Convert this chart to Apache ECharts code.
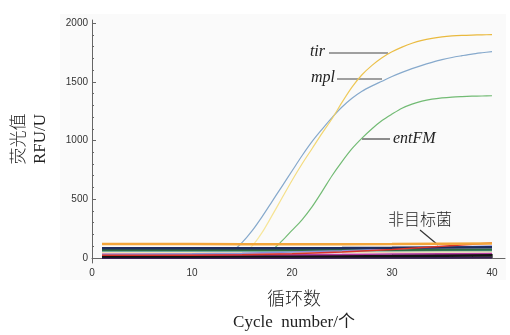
<!DOCTYPE html>
<html>
<head>
<meta charset="utf-8">
<script src="https://cdn.jsdelivr.net/npm/echarts@6/dist/echarts.min.js"></script>
<style>
	html, body { margin: 0; padding: 0; background: #fff; }
	#containerCurva { width: 510px; height: 335px; }
</style>
</head>
<body>
<div id="containerCurva"></div>
<script>
// ciclos 1..40
var ciclos = [];
for (var c = 1; c <= 40; c++) ciclos.push(c);

// curvas de amplificacion (RFU por ciclo)
var tir = [10, 10, 10, 10, 10, 10, 10, 10, 10, 10, 11, 11, 12, 14, 35, 100, 215, 360, 510, 660,
	800, 930, 1060, 1185, 1325, 1455, 1560, 1640, 1705, 1755, 1795, 1828, 1853, 1870, 1882, 1890, 1895, 1898, 1900, 1901];
var mpl = [20, 20, 20, 20, 20, 20, 20, 20, 20, 21, 22, 24, 30, 55, 130, 230, 350, 480, 610, 740,
	870, 990, 1095, 1195, 1285, 1360, 1420, 1465, 1505, 1545, 1580, 1612, 1640, 1665, 1688, 1707, 1722, 1736, 1747, 1757];
var entFM = [30, 30, 30, 30, 30, 30, 30, 30, 30, 30, 30, 30, 30, 31, 32, 34, 40, 70, 145, 235,
	325, 435, 565, 700, 820, 930, 1020, 1100, 1170, 1225, 1275, 1310, 1335, 1352, 1363, 1370, 1374, 1377, 1379, 1381];

// bacterias no objetivo (lineas base)
var ciclosBase = [1, 5, 10, 15, 20, 25, 30, 35, 40];
var baseNaranja = [118, 118, 118, 117, 117, 117, 118, 120, 122];
var baseRojo = [22, 22, 24, 28, 36, 50, 72, 100, 128];
var baseAzulOsc = [82, 82, 82, 82, 83, 84, 86, 90, 92];
var baseLavanda = [30, 32, 35, 40, 50, 62, 76, 92, 102];
var baseVerde = [68, 68, 68, 68, 68, 68, 68, 70, 72];
var baseTeal = [60, 60, 60, 60, 60, 61, 62, 63, 64];
var baseCrema = [50, 50, 50, 50, 50, 51, 52, 53, 54];
var baseRosa = [36, 36, 37, 38, 40, 44, 48, 52, 58];
var baseMagenta = [26, 26, 26, 27, 28, 30, 33, 36, 40];
var baseNegro = [15, 15, 15, 16, 16, 17, 18, 20, 22];
var baseMorado = [0, 0, 0, 0, 0, 1, 2, 2, 3];

var xLabels = [0, 10, 20, 30, 40];
var xMinor = [2, 4, 6, 8, 12, 14, 16, 18, 22, 24, 26, 28, 32, 34, 36, 38];
var yLabels = [0, 500, 1000, 1500, 2000];
var yMinor = [100, 200, 300, 400, 600, 700, 800, 900, 1100, 1200, 1300, 1400, 1600, 1700, 1800, 1900];

function pares(xs, ys) {
	return xs.map(function (x, i) { return [x, ys[i]]; });
}

function serieCurva(nombre, data, color) {
	return {
		name: nombre, type: 'line', data: pares(ciclos, data),
		showSymbol: false, smooth: 0.3, silent: true, z: 2,
		lineStyle: { color: color, width: 1.2 }
	};
}

function serieBase(data, color, ancho) {
	return {
		type: 'line', data: pares(ciclosBase, data),
		showSymbol: false, silent: true, z: 3,
		lineStyle: { color: color, width: ancho }
	};
}

function initCurva(divName) {
	var dom = document.getElementById(divName);
	var myChart = echarts.init(dom);
	var ejeTxt = { color: '#333', fontSize: 10, fontFamily: 'Liberation Sans, Arial, sans-serif', formatter: function (v) { return String(v); } };
	var serif = 'Liberation Serif, Noto Sans CJK SC, serif';
	var amarillo = new echarts.graphic.LinearGradient(0, 0, 0, 1, [
		{ offset: 0, color: '#e9b83c' },
		{ offset: 0.45, color: '#f2d670' },
		{ offset: 1, color: '#f8eba8' }
	]);

	var option = {
		animation: false,
		grid: { left: 92, right: 5, top: 20, bottom: 72 },
		xAxis: [
			{
				type: 'value', min: 0, max: 41.3,
				axisLine: { lineStyle: { color: '#666', width: 1 } },
				axisTick: { inside: true, length: 4, customValues: xLabels, lineStyle: { color: '#666' } },
				axisLabel: Object.assign({ customValues: xLabels, margin: 5 }, ejeTxt),
				splitLine: { show: false }
			},
			{
				type: 'value', min: 0, max: 41.3, position: 'bottom',
				axisLine: { show: false },
				axisTick: { inside: true, length: 2, customValues: xMinor, lineStyle: { color: '#666' } },
				axisLabel: { show: false },
				splitLine: { show: false }
			}
		],
		yAxis: [
			{
				type: 'value', min: -43, max: 2026,
				axisLine: { show: true, lineStyle: { color: '#666', width: 1 } },
				axisTick: { show: true, inside: true, length: 4, customValues: yLabels, lineStyle: { color: '#666' } },
				axisLabel: Object.assign({ customValues: yLabels, margin: 4 }, ejeTxt),
				splitLine: { show: false }
			},
			{
				type: 'value', min: -43, max: 2026, position: 'left',
				axisLine: { show: false },
				axisTick: { show: true, inside: true, length: 2, customValues: yMinor, lineStyle: { color: '#666' } },
				axisLabel: { show: false },
				splitLine: { show: false }
			}
		],
		series: [
			serieCurva('entFM', entFM, '#72bb74'),
			serieCurva('mpl', mpl, '#86a9cc'),
			serieCurva('tir', tir, amarillo),
			serieBase(baseMorado, '#3b1f57', 2),
			serieBase(baseNegro, '#141414', 3),
			serieBase(baseMagenta, '#b23aa0', 1.5),
			serieBase(baseRosa, '#e39ac0', 1.5),
			serieBase(baseCrema, '#efe3b5', 2),
			serieBase(baseTeal, '#4a9a9a', 1.5),
			serieBase(baseVerde, '#2f6e43', 2),
			serieBase(baseLavanda, '#8c8fd8', 1.5),
			serieBase(baseAzulOsc, '#1d2c5e', 2.5),
			serieBase(baseRojo, '#d8352a', 1.5),
			serieBase(baseNaranja, '#f3a53a', 2.5)
		],
		graphic: [
			// fondo gris del grafico
			{ type: 'rect', z: -10, shape: { x: 60, y: 14, width: 446, height: 266 }, style: { fill: '#fafafa' } },
			// titulo eje Y
			{ type: 'text', x: 20, y: 139, rotation: Math.PI / 2,
				style: { text: '荧光值', font: '300 17px ' + serif, fill: '#222', align: 'center', verticalAlign: 'middle' } },
			{ type: 'text', x: 41, y: 139, rotation: Math.PI / 2,
				style: { text: 'RFU/U', font: '17px ' + serif, fill: '#222', align: 'center', verticalAlign: 'middle' } },
			// titulo eje X
			{ type: 'text', x: 294, y: 300,
				style: { text: '循环数', font: '300 18px ' + serif, fill: '#222', align: 'center', verticalAlign: 'middle' } },
			{ type: 'text', x: 294, y: 323,
				style: { text: 'Cycle  number/个', font: '17px ' + serif, fill: '#222', align: 'center', verticalAlign: 'middle' } },
			// etiquetas de curvas
			{ type: 'text', x: 325, y: 52,
				style: { text: 'tir', font: 'italic 16px ' + serif, fill: '#222', align: 'right', verticalAlign: 'middle' } },
			{ type: 'line', shape: { x1: 329, y1: 53, x2: 388, y2: 53 }, style: { stroke: '#444', lineWidth: 1.2 } },
			{ type: 'text', x: 335, y: 78,
				style: { text: 'mpl', font: 'italic 16px ' + serif, fill: '#222', align: 'right', verticalAlign: 'middle' } },
			{ type: 'line', shape: { x1: 337, y1: 79, x2: 382, y2: 79 }, style: { stroke: '#444', lineWidth: 1.2 } },
			{ type: 'text', x: 393, y: 139,
				style: { text: 'entFM', font: 'italic 16px ' + serif, fill: '#222', align: 'left', verticalAlign: 'middle' } },
			{ type: 'line', shape: { x1: 362, y1: 139, x2: 390, y2: 139 }, style: { stroke: '#444', lineWidth: 1.2 } },
			{ type: 'text', x: 420, y: 221,
				style: { text: '非目标菌', font: '300 16px ' + serif, fill: '#222', align: 'center', verticalAlign: 'middle' } },
			{ type: 'line', shape: { x1: 420, y1: 230, x2: 438, y2: 245 }, style: { stroke: '#333', lineWidth: 1.2 } }
		]
	};

	if (option && typeof option === "object") {
		myChart.setOption(option, true);
	}
}

initCurva('containerCurva');
</script>
</body>
</html>
